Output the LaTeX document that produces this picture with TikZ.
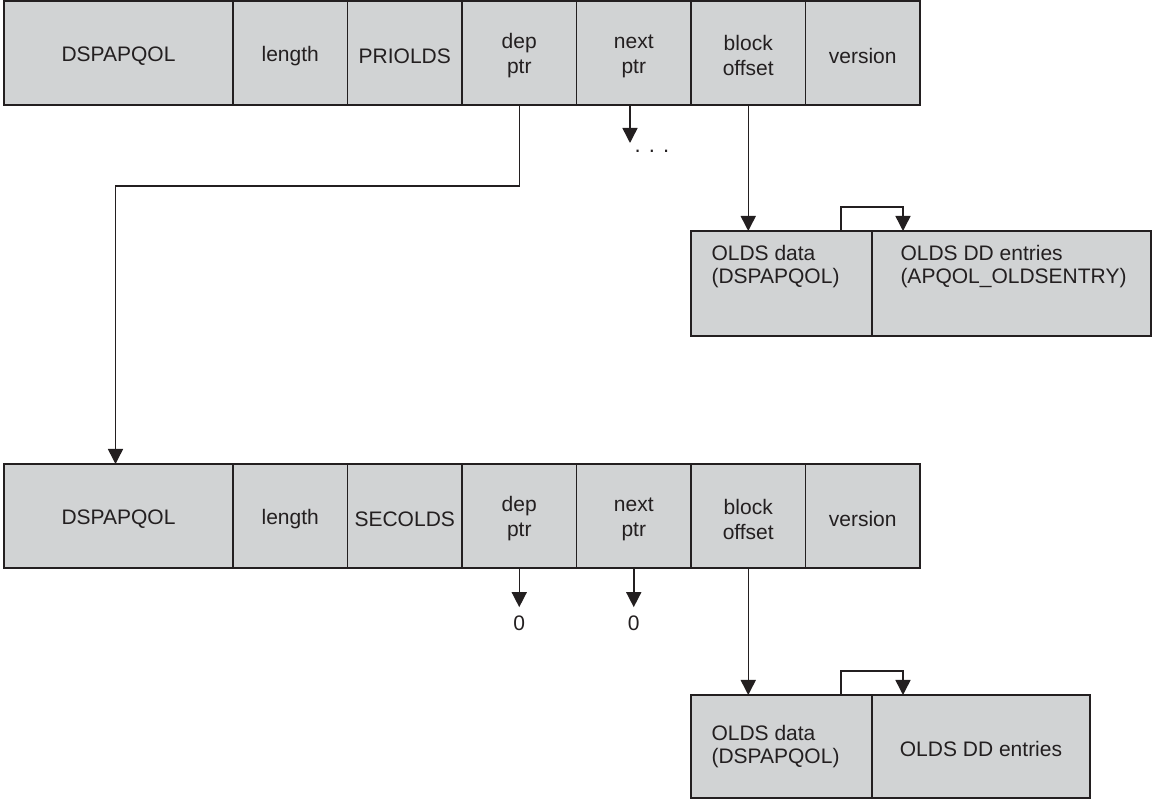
\documentclass[tikz,border=0pt]{standalone}
\usepackage{fontspec}
\setmainfont{Liberation Sans}
\usetikzlibrary{arrows.meta, positioning, calc}
\definecolor{cellgray}{RGB}{209,211,212}
\definecolor{inkline}{RGB}{35,31,32}

\begin{document}
\begin{tikzpicture}[
    x=0.5pt, y=-0.5pt,
    box/.style={draw=inkline, fill=cellgray, line width=0.75pt, inner sep=0pt, outer sep=0pt,
        minimum width=57.25pt, minimum height=52pt},
    cell text/.style={align=center, text=inkline, inner sep=0pt, yshift=-1.5pt,
        font=\fontsize{10.5}{12.5}\selectfont},
    olds text/.style={align=left, text=inkline, inner sep=0pt,
        font=\fontsize{10.5}{11.75}\selectfont},
    field/.style={box, label={[cell text]center:{#1}}},
    namefield/.style={field={#1}, minimum width=114.5pt},
    note/.style={inner sep=0pt, text=inkline, font=\fontsize{10.5}{12}\selectfont},
    arrow/.style={-{Triangle[length=7.5pt, width=7.5pt]}, draw=inkline, line width=0.75pt},
]
\useasboundingbox (0,0) rectangle (1152,801);

% primary OLDS control block
\node[namefield=DSPAPQOL] (pname) at (118.5, 53) {};
\node[field=length] (plen) at (290.25, 53) {};
\node[field=PRIOLDS] (pid) at (404.75, 53) {};
\node[field={dep\\ptr}] (pdep) at (519.25, 53) {};
\node[field={next\\ptr}] (pnext) at (633.75, 53) {};
\node[field={block\\offset}] (pblock) at (748.25, 53) {};
\node[field=version] (pver) at (862.75, 53) {};

\node[box, minimum width=90.5pt, minimum height=52.5pt,
      label={[olds text, xshift=-3pt, yshift=8.5pt]center:{OLDS data\\(DSPAPQOL)}}] (pdata) at (781.5, 283.5) {};
\node[box, minimum width=139.5pt, minimum height=52.5pt,
      label={[olds text, xshift=1pt, yshift=8.5pt]center:{OLDS DD entries\\(APQOL\_OLDSENTRY)}}] (pdd) at (1011.5, 283.5) {};

% secondary OLDS control block
\node[namefield=DSPAPQOL] (sname) at (118.5, 516) {};
\node[field=length] (slen) at (290.25, 516) {};
\node[field=SECOLDS] (sid) at (404.75, 516) {};
\node[field={dep\\ptr}] (sdep) at (519.25, 516) {};
\node[field={next\\ptr}] (snext) at (633.75, 516) {};
\node[field={block\\offset}] (sblock) at (748.25, 516) {};
\node[field=version] (sver) at (862.75, 516) {};

\node[box, minimum width=90.5pt, minimum height=51.5pt,
      label={[olds text, xshift=-3pt]center:{OLDS data\\(DSPAPQOL)}}] (sdata) at (781.5, 746.5) {};
\node[box, minimum width=109pt, minimum height=51.5pt,
      label={[olds text, yshift=-1pt]center:{OLDS DD entries}}] (sdd) at (981, 746.5) {};

\node[note, font=\fontsize{11}{12}\selectfont] (pdots) at (652, 151) {. . .};
\coordinate (pnextend) at (630, 143);
\node[note, inner ysep=4pt] (sdepnull) at (519.25, 623) {0};
\node[note, inner ysep=4pt] (snextnull) at (633.75, 623) {0};

% pointers
\draw[arrow] (pdep.south) -- ++(0,81) -| ([xshift=-1.5pt]sname.north);
\draw[arrow] (pnext.south -| pnextend) -- (pnextend);
\draw[arrow] (pblock.south) -- (pblock.south |- pdata.north);
\draw[arrow] ($(pdata.north east)+(-31,0)$) -- ++(0,-24) -| ($(pdd.north west)+(31,0)$);

\draw[arrow] (sdep.south) -- (sdepnull.north);
\draw[arrow] (snext.south) -- (snextnull.north);
\draw[arrow] (sblock.south) -- (sblock.south |- sdata.north);
\draw[arrow] ($(sdata.north east)+(-31,0)$) -- ++(0,-24) -| ($(sdd.north west)+(31,0)$);

\end{tikzpicture}
\end{document}
